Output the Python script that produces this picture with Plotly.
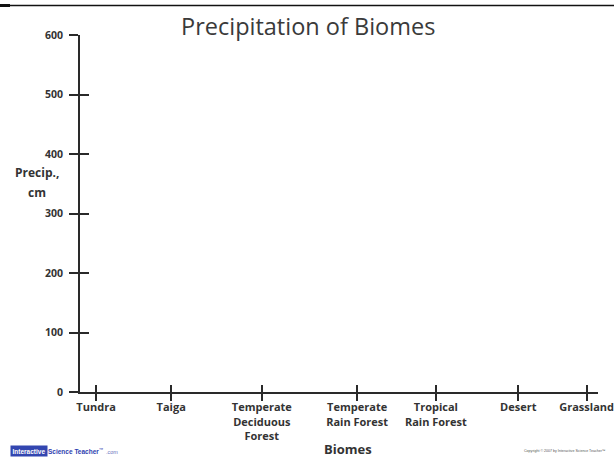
import plotly.graph_objects as go

# ---- data ----
biomes = ["Tundra", "Taiga", "Temperate<br>Deciduous<br>Forest", "Temperate<br>Rain Forest",
          "Tropical<br>Rain Forest", "Desert", "Grassland"]
biome_pos = [0.31, 1.76, 3.51, 5.35, 6.87, 8.46, 9.78]
precip_ticks = [0, 100, 200, 300, 400, 500, 600]
precip_values = []  # blank worksheet chart: no values plotted

W, H = 614, 458
L, R, T, B = 80, 16, 35, 66
pw, ph = W - L - R, H - T - B

def px(x):
    return (x - L) / pw

def py(y):
    return (H - B - y) / ph

AX = "#2a2a2a"
TX = "#333333"
FONT = "Open Sans"

fig = go.Figure()
fig.add_trace(go.Scatter(x=biome_pos[:len(precip_values)], y=precip_values, mode="markers",
                         xaxis="x", yaxis="y", showlegend=False))
fig.add_trace(go.Scatter(x=[], y=[], xaxis="x2", yaxis="y2", showlegend=False))

xcommon = dict(range=[0, 10], showgrid=False, zeroline=False, tickvals=biome_pos,
               tickwidth=2, tickcolor=AX, fixedrange=True)
ycommon = dict(range=[0, 600], showgrid=False, zeroline=False, tickvals=precip_ticks,
               tickwidth=2, tickcolor=AX, fixedrange=True)

fig.update_layout(
    width=W, height=H,
    margin=dict(l=L, r=R, t=T, b=B, autoexpand=False),
    paper_bgcolor="white", plot_bgcolor="white",
    showlegend=False,
    xaxis=dict(**xcommon, ticktext=biomes, ticks="outside", ticklen=7,
               showline=True, linewidth=2, linecolor=AX, ticklabeloverflow="allow",
               ticklabelstandoff=-3,
               tickfont=dict(family=FONT, size=11, color=TX, weight="bold")),
    yaxis=dict(**ycommon, ticktext=[str(v) for v in precip_ticks], ticks="outside", ticklen=9,
               showline=True, linewidth=2, linecolor=AX, ticklabelstandoff=4,
               tickfont=dict(family=FONT, size=10.5, color=TX, weight="bold")),
    xaxis2=dict(**xcommon, overlaying="x", anchor="y2", side="bottom", ticks="inside",
                ticklen=7, showticklabels=False, showline=False),
    yaxis2=dict(**ycommon, overlaying="y", anchor="x2", side="left", ticks="inside",
                ticklen=9, showticklabels=False, showline=False),
)

ann = [
    dict(text="Precipitation of Biomes", x=px(308), y=py(26), font=dict(size=23.5, color="#3a3a3a", family=FONT)),
    dict(text="<b>Precip.,</b>", x=px(37), y=py(172), font=dict(size=12, color=TX, family=FONT)),
    dict(text="<b>cm</b>", x=px(37), y=py(192), font=dict(size=12, color=TX, family=FONT)),
    dict(text="<b>Biomes</b>", x=px(348), y=py(449), font=dict(size=13, color=TX, family=FONT)),
    dict(text="<b>Interactive</b>", x=px(10), y=py(451), xanchor="left", bgcolor="#3346b0",
         font=dict(size=6.5, color="white", family="Liberation Sans Narrow, Liberation Sans"),
         borderpad=1.5),
    dict(text="<b>Science Teacher</b><sup>™</sup>", x=px(46), y=py(451), xanchor="left",
         font=dict(size=6.5, color="#2f3fb0", family="Liberation Sans Narrow, Liberation Sans")),
    dict(text=".com", x=px(104), y=py(452), xanchor="left",
         font=dict(size=5.5, color="#6a74c0", family="Liberation Sans")),
    dict(text="Copyright © 2007 by Interactive Science Teacher™", x=px(608), y=py(451), xanchor="right",
         font=dict(size=3.6, color="#555555", family="Liberation Sans")),
]
for a in ann:
    a.setdefault("xanchor", "center")
    fig.add_annotation(xref="paper", yref="paper", showarrow=False, yanchor="middle", **a)

fig.add_shape(type="line", xref="paper", yref="paper", x0=px(0), x1=px(614), y0=py(5.5), y1=py(5.5),
              line=dict(color="#111111", width=1.5))
fig.add_shape(type="line", xref="paper", yref="paper", x0=px(0), x1=px(10), y0=py(5.5), y1=py(5.5),
              line=dict(color="#111111", width=3))

fig.write_html("out.html", config={"displayModeBar": False},
               post_script="document.body.style.margin='0';document.body.style.overflow='hidden';")
